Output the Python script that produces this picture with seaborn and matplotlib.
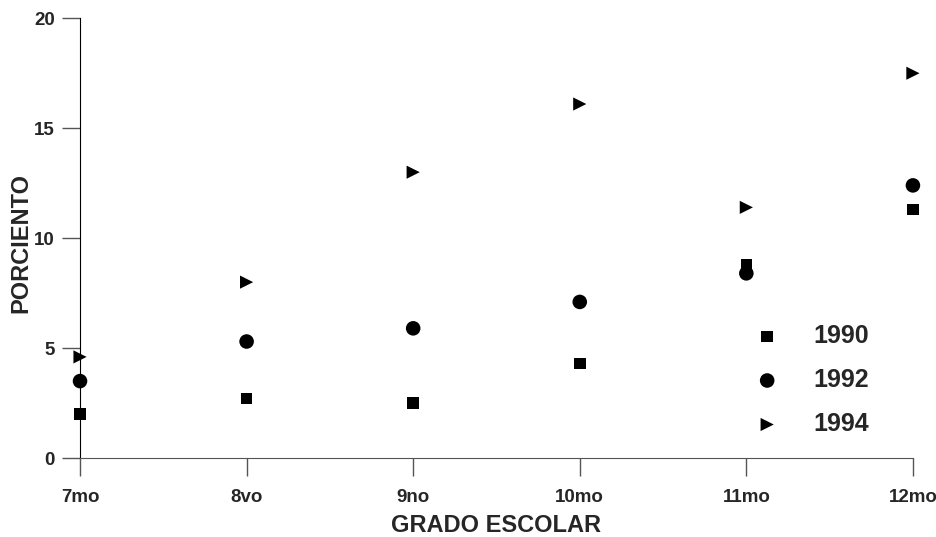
import pandas as pd
import seaborn as sns
import matplotlib.pyplot as plt

grados = ['7mo', '8vo', '9no', '10mo', '11mo', '12mo']
v1990 = [2.0, 2.7, 2.5, 4.3, 8.8, 11.3]
v1992 = [3.5, 5.3, 5.9, 7.1, 8.4, 12.4]
v1994 = [4.6, 8.0, 13.0, 16.1, 11.4, 17.5]
anios = ['1990', '1992', '1994']

df = pd.DataFrame({
    'grado': list(range(len(grados))) * 3,
    'valor': v1990 + v1992 + v1994,
    'anio': [a for a in anios for _ in grados],
})

sns.set_style('white')
plt.rcParams['font.family'] = ['Liberation Sans', 'DejaVu Sans']

fig = plt.figure(figsize=(9.37, 5.37), dpi=100)
ax = fig.add_axes([0.0854, 0.147, 0.8889, 0.819])

markers = {'1990': 's', '1992': 'o', '1994': '>'}
sizes = {'1990': 140, '1992': 430, '1994': 480}
for a in anios:
    sub = df[df['anio'] == a]
    sns.scatterplot(data=sub, x='grado', y='valor', marker=markers[a],
                    s=sizes[a], color='black', edgecolor='none',
                    ax=ax, label=a, clip_on=False, zorder=3)

ax.set_xlim(0, 5)
ax.set_ylim(0, 20)
ax.set_xticks(range(len(grados)))
ax.set_xticklabels(grados)
ax.set_yticks([0, 5, 10, 15, 20])

for s in ['top', 'right']:
    ax.spines[s].set_visible(False)
ax.spines['left'].set_color('black')
ax.spines['bottom'].set_color('#555555')
ax.tick_params(axis='both', direction='out', length=13, width=1, color='#555555',
               labelsize=13.5, bottom=True, left=True)
ax.tick_params(axis='x', pad=9)
ax.tick_params(axis='y', pad=5)
for t in ax.get_xticklabels() + ax.get_yticklabels():
    t.set_fontweight('bold')

ax.set_xlabel('GRADO ESCOLAR')
ax.set_ylabel('PORCIENTO')
for lab in [ax.xaxis.label, ax.yaxis.label]:
    lab.set_fontsize(17)
    lab.set_fontweight('bold')
ax.xaxis.set_label_coords(0.5, -0.128)
ax.yaxis.set_label_coords(-0.057, 0.49)

handles, labels = ax.get_legend_handles_labels()
for h, sz in zip(handles, [70, 110, 90]):
    h.set_sizes([sz])
leg = ax.legend(handles, labels, loc='lower left', bbox_to_anchor=(0.795, 0.05),
                frameon=False, fontsize=18, handletextpad=0.85, labelspacing=0.8,
                borderaxespad=0, borderpad=0)
for t in leg.get_texts():
    t.set_fontweight('bold')

fig.savefig('out.png', dpi=100)
